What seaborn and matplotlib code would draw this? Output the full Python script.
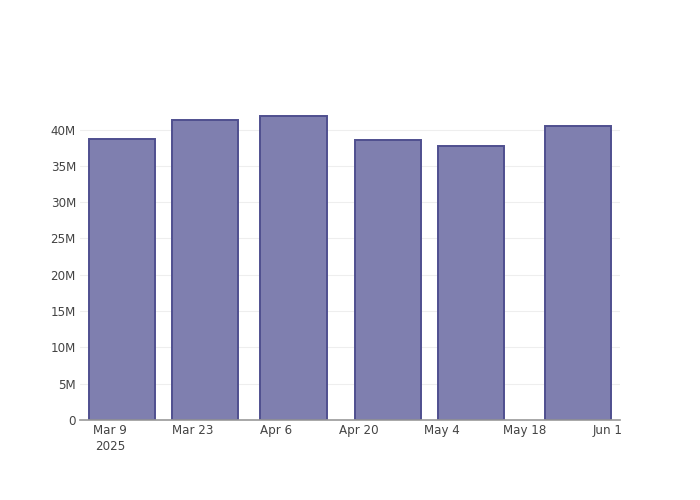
import seaborn as sns
import pandas as pd
import numpy as np
import matplotlib.pyplot as plt
import matplotlib.dates as mdates

# datos
fechas = ['2025-03-11', '2025-03-25', '2025-04-09', '2025-04-25', '2025-05-09', '2025-05-27']
valores = [38.7e6, 41.3e6, 41.9e6, 38.6e6, 37.7e6, 40.5e6]
ticks_fechas = ['2025-03-09', '2025-03-23', '2025-04-06', '2025-04-20', '2025-05-04', '2025-05-18', '2025-06-01']
ticks_etiquetas = ['Mar 9\n2025', 'Mar 23', 'Apr 6', 'Apr 20', 'May 4', 'May 18', 'Jun 1']
ticks_y = [0, 5e6, 10e6, 15e6, 20e6, 25e6, 30e6, 35e6, 40e6]
etiquetas_y = ['0', '5M', '10M', '15M', '20M', '25M', '30M', '35M', '40M']

sns.set_style('white')
plt.rcParams['font.family'] = ['DejaVu Sans']

df = pd.DataFrame({'fecha': mdates.date2num(pd.to_datetime(fechas)), 'valor': valores})

fig = plt.figure(figsize=(7, 5), dpi=100)
ax = fig.add_axes([80 / 700, 80 / 500, 540 / 700, 320 / 500])

# lineas de la rejilla primero
for t in ticks_y[1:]:
    ax.axhline(t, color='#eeeeee', linewidth=0.8, zorder=0)

sns.barplot(data=df, x='fecha', y='valor', native_scale=True, width=0.8,
            color='#7f7faf', edgecolor='#4f4f8f', linewidth=1.4, saturation=1, ax=ax, zorder=2)

x0 = mdates.date2num(pd.Timestamp('2025-03-09'))
ax.set_xlim(x0 - 5.07, x0 + 86.15)
ax.set_ylim(0, 44.07e6)

ax.set_xticks(mdates.date2num(pd.to_datetime(ticks_fechas)))
ax.set_xticklabels(ticks_etiquetas, color='#444444', fontsize=8.6, linespacing=1.3)
ax.set_yticks(ticks_y)
ax.set_yticklabels(etiquetas_y, color='#444444', fontsize=8.6)
ax.tick_params(axis='both', length=0)
ax.tick_params(axis='x', pad=3)
ax.tick_params(axis='y', pad=3)

for lado in ['top', 'right', 'left']:
    ax.spines[lado].set_visible(False)
ax.spines['bottom'].set_color('#999999')
ax.spines['bottom'].set_linewidth(1.2)
ax.set_xlabel('')
ax.set_ylabel('')

fig.savefig('out.png', dpi=100)
plt.close()
